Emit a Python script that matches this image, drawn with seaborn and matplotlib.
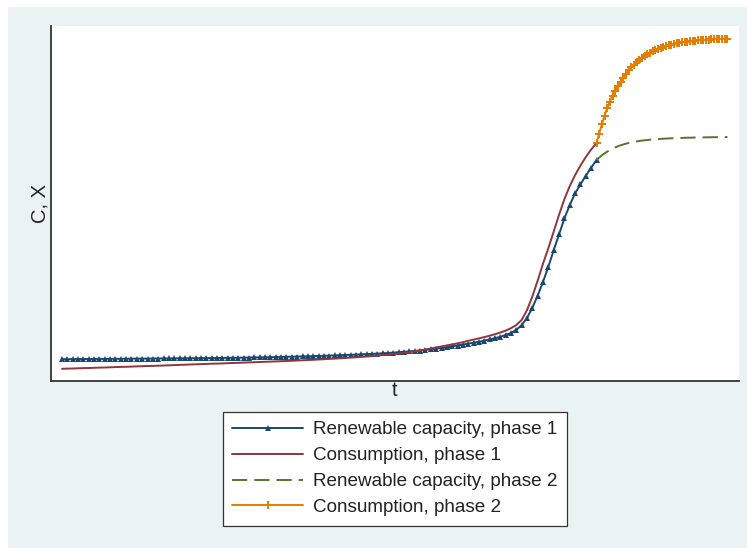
import numpy as np
import matplotlib
matplotlib.use("Agg")
import matplotlib.pyplot as plt
import seaborn as sns
from matplotlib.patches import Rectangle

sns.set_theme(style="white")
plt.rcParams['font.family'] = ['Liberation Sans', 'DejaVu Sans']
plt.rcParams['lines.scale_dashes'] = False

# ---------------- data ----------------
t_phase1 = np.arange(0, 101)            # t = 0 .. 100
t_phase2 = np.arange(100, 125, 0.5)     # t = 100 .. 124.5

renew1 = [
    21.8, 21.8, 21.9, 21.9, 22.0, 22.0, 22.1, 22.1, 22.1, 22.2,
    22.2, 22.2, 22.3, 22.3, 22.4, 22.4, 22.4, 22.5, 22.5, 22.6,
    22.6, 22.6, 22.7, 22.7, 22.8, 22.8, 22.9, 22.9, 23.0, 23.0,
    23.1, 23.2, 23.2, 23.3, 23.4, 23.5, 23.6, 23.6, 23.7, 23.8,
    24.0, 24.1, 24.2, 24.3, 24.5, 24.6, 24.7, 24.9, 25.1, 25.2,
    25.4, 25.6, 25.8, 26.0, 26.2, 26.4, 26.7, 26.9, 27.2, 27.4,
    27.7, 28.0, 28.4, 28.8, 29.2, 29.6, 30.0, 30.5, 31.1, 31.7,
    32.4, 33.0, 33.7, 34.6, 35.5, 36.4, 37.4, 38.3, 39.2, 40.4,
    41.6, 42.8, 44.2, 46.0, 48.0, 51.2, 55.8, 63.0, 73.2, 85.5,
    99.3, 114.3, 131.0, 146.7, 162.7, 176.0, 187.7, 196.7, 205.3, 213.3,
    221.0,
]
cons1 = [
    12.2, 12.4, 12.5, 12.7, 12.9, 13.0, 13.2, 13.4, 13.5, 13.7,
    13.9, 14.1, 14.2, 14.4, 14.6, 14.8, 15.0, 15.1, 15.3, 15.5,
    15.7, 15.9, 16.1, 16.3, 16.5, 16.7, 16.9, 17.1, 17.3, 17.4,
    17.6, 17.8, 18.0, 18.2, 18.4, 18.6, 18.8, 19.0, 19.2, 19.4,
    19.6, 19.8, 20.0, 20.2, 20.5, 20.7, 21.0, 21.2, 21.5, 21.8,
    22.1, 22.4, 22.7, 23.0, 23.4, 23.7, 24.1, 24.5, 24.9, 25.4,
    26.0, 26.5, 27.0, 27.6, 28.2, 28.9, 29.7, 30.6, 31.5, 32.5,
    33.5, 34.5, 35.5, 36.6, 37.7, 38.8, 40.2, 41.4, 42.6, 43.9,
    45.3, 46.8, 48.4, 50.4, 52.8, 56.0, 61.0, 71.0, 84.5, 100.5,
    117.5, 133.0, 149.5, 166.5, 182.0, 195.0, 206.0, 215.5, 224.0, 231.5,
    237.7,
]
renew2 = [
    221.0, 223.4, 225.6, 227.6, 229.4, 231.0, 232.4, 233.6, 234.7, 235.7,
    236.5, 237.3, 238.0, 238.6, 239.1, 239.6, 240.0, 240.4, 240.7, 241.0,
    241.3, 241.5, 241.7, 241.9, 242.1, 242.3, 242.4, 242.6, 242.7, 242.8,
    242.9, 243.0, 243.1, 243.2, 243.3, 243.3, 243.4, 243.5, 243.5, 243.6,
    243.6, 243.7, 243.7, 243.8, 243.8, 243.8, 243.9, 243.9, 243.9, 244.0,
]
cons2 = [
    237.7, 247.5, 256.7, 265.4, 273.0, 279.5, 285.2, 290.3, 295.0, 299.4,
    303.5, 307.2, 310.6, 313.7, 316.5, 319.0, 321.2, 323.2, 325.0, 326.7,
    328.2, 329.6, 330.9, 332.0, 333.1, 334.0, 334.9, 335.7, 336.4, 337.0,
    337.6, 338.1, 338.6, 339.0, 339.4, 339.8, 340.1, 340.4, 340.7, 340.9,
    341.1, 341.3, 341.5, 341.7, 341.8, 342.0, 342.1, 342.2, 342.3, 342.4,
]

labels = [
    "Renewable capacity, phase 1",
    "Consumption, phase 1",
    "Renewable capacity, phase 2",
    "Consumption, phase 2",
]
colors = ["#1A476F", "#90353B", "#55752F", "#E37E00"]

# ---------------- figure ----------------
W, H = 747, 548
fig = plt.figure(figsize=(W / 100, H / 100), dpi=100, facecolor="white")
fig.patches.append(Rectangle((8 / W, 0), 1 - 8 / W, 1 - 7 / H,
                             transform=fig.transFigure, facecolor="#EAF2F3",
                             edgecolor="none", zorder=-10))
ax = fig.add_axes([51 / W, 1 - 381 / H, (739 - 51) / W, (381 - 26) / H])
ax.set_facecolor("white")

lw = 1.4
sns.lineplot(x=t_phase1, y=renew1, ax=ax, color=colors[0], linewidth=lw,
             marker="^", markersize=3.8, markeredgewidth=0,
             label=labels[0], estimator=None, sort=False)
sns.lineplot(x=t_phase1, y=cons1, ax=ax, color=colors[1], linewidth=lw,
             label=labels[1], estimator=None, sort=False)
sns.lineplot(x=t_phase2, y=renew2, ax=ax, color=colors[2], linewidth=lw,
             linestyle=(0, (11, 5)),
             label=labels[2], estimator=None, sort=False)
sns.lineplot(x=t_phase2, y=cons2, ax=ax, color=colors[3], linewidth=lw,
             marker="P", markersize=5.2, markeredgewidth=0,
             label=labels[3], estimator=None, sort=False)

ax.set_xlim(-2.06, 126.66)
ax.set_ylim(0, 355)
ax.set_xticks([])
ax.set_yticks([])
for s in ["top", "right"]:
    ax.spines[s].set_visible(False)
for s in ["left", "bottom"]:
    ax.spines[s].set_color("#333333")
    ax.spines[s].set_linewidth(1.3)

ax.set_ylabel("C, X", fontsize=14.5, color="#222222", labelpad=1)
ax.set_xlabel("t", fontsize=14.5, color="#222222", labelpad=0)

handles, labs = ax.get_legend_handles_labels()
if ax.get_legend() is not None:
    ax.get_legend().remove()
leg = fig.legend(handles, labs, loc="upper center",
                 bbox_to_anchor=(395 / W, 1 - 411.7 / H),
                 fontsize=13.6, frameon=True, fancybox=False,
                 edgecolor="#333333", framealpha=1, facecolor="white",
                 borderpad=0.5, handlelength=3.75, handletextpad=0.55,
                 labelspacing=0.46, borderaxespad=0, numpoints=1)
leg.get_frame().set_linewidth(0.9)
for txt in leg.get_texts():
    txt.set_color("#222222")

fig.savefig("out.png", dpi=100, facecolor="white")
